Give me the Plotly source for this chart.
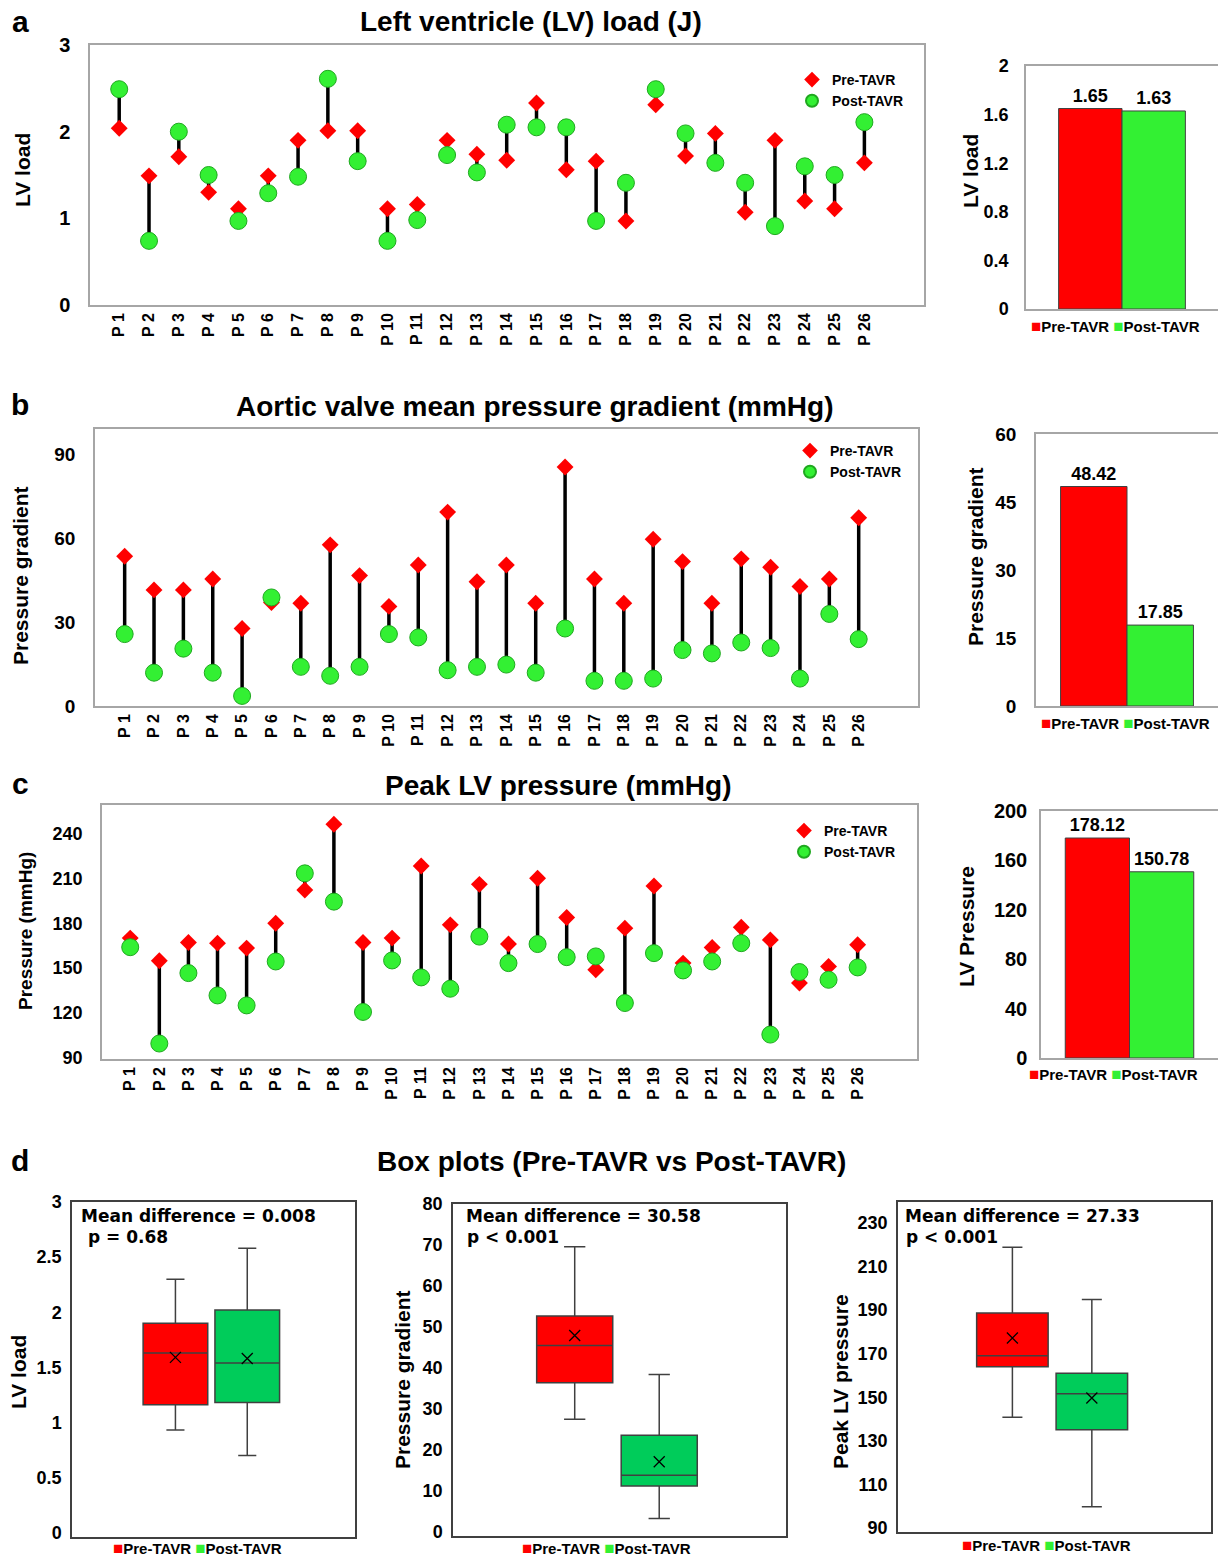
import plotly.graph_objects as go

W, H = 1218, 1559

# ---------------- data ----------------
patients = ["P 1", "P 2", "P 3", "P 4", "P 5", "P 6", "P 7", "P 8", "P 9", "P 10",
            "P 11", "P 12", "P 13", "P 14", "P 15", "P 16", "P 17", "P 18", "P 19",
            "P 20", "P 21", "P 22", "P 23", "P 24", "P 25", "P 26"]

lv_pre = [2.04, 1.49, 1.71, 1.30, 1.11, 1.49, 1.90, 2.01, 2.01, 1.11, 1.16, 1.90, 1.74,
          1.67, 2.33, 1.56, 1.66, 0.97, 2.31, 1.72, 1.98, 1.07, 1.90, 1.20, 1.11, 1.64]
lv_post = [2.49, 0.74, 2.00, 1.50, 0.97, 1.29, 1.48, 2.61, 1.66, 0.74, 0.98, 1.73, 1.53,
           2.08, 2.05, 2.05, 0.97, 1.41, 2.49, 1.98, 1.64, 1.41, 0.91, 1.60, 1.50, 2.11]

pg_pre = [53.5, 41.5, 41.5, 45.4, 27.7, 37.0, 36.7, 57.6, 46.6, 35.6, 50.4, 69.3, 44.4,
          50.4, 36.7, 85.4, 45.4, 36.7, 59.6, 51.6, 36.7, 52.6, 49.6, 42.7, 45.4, 67.3]
pg_post = [25.7, 11.9, 20.5, 11.9, 3.6, 38.8, 14.0, 10.8, 14.0, 25.7, 24.5, 12.8, 14.0,
           14.8, 11.9, 27.7, 9.0, 9.0, 9.8, 20.0, 18.8, 22.7, 20.7, 9.8, 32.9, 23.9]

lvp_pre = [170.2, 155.0, 167.2, 166.8, 163.5, 180.2, 202.5, 246.7, 167.2, 170.2, 218.6,
           179.1, 206.3, 166.2, 210.4, 184.0, 148.9, 176.9, 205.2, 153.4, 163.9, 177.5,
           169.0, 140.0, 151.2, 165.7]
lvp_post = [164.1, 99.4, 146.7, 131.7, 125.0, 154.5, 213.7, 194.7, 120.6, 155.2, 143.8,
            136.2, 171.2, 153.4, 166.2, 157.4, 157.9, 126.6, 160.1, 148.5, 154.5, 166.8,
            105.4, 147.4, 142.2, 150.5]

groups = ["Pre-TAVR", "Post-TAVR"]
lv_mean = [1.65, 1.63]
pg_mean = [48.42, 17.85]
lvp_mean = [178.12, 150.78]

# box statistics: [lower whisker, Q1, median, Q3, upper whisker]
lv_box_pre = [0.93, 1.16, 1.63, 1.90, 2.30]
lv_box_post = [0.70, 1.18, 1.54, 2.02, 2.58]
lv_box_means = [1.59, 1.58]
pg_box_pre = [27.5, 36.4, 45.5, 52.7, 69.6]
pg_box_post = [3.3, 11.2, 13.8, 23.6, 38.4]
pg_box_means = [47.9, 17.1]
lvp_box_pre = [140.9, 164.0, 169.1, 188.7, 218.8]
lvp_box_post = [99.8, 135.1, 151.6, 161.0, 194.9]
lvp_box_means = [177.2, 149.7]

lv_diff_text = ["Mean difference = 0.008", " p = 0.68"]
pg_diff_text = ["Mean difference = 30.58", "p < 0.001"]
lvp_diff_text = ["Mean difference = 27.33", "p < 0.001"]

# ---------------- style ----------------
FONT = "Liberation Sans, Arial, sans-serif"
VER = "DejaVu Sans, Verdana, sans-serif"
RED = "#FF0000"
GREEN = "#33F033"
GREEN_EDGE = "#1FA81F"
BOX_GREEN = "#00CC5A"
FRAME = "#A6A6A6"


def X(p):
    return p / W


def Y(p):
    return 1 - p / H


def xd(l, r):
    return [max(0, X(l)), min(1, X(r))]


def yd(t, b):
    return [Y(b), Y(t)]


fig = go.Figure()
layout = dict(width=W, height=H,
              margin=dict(l=0, r=0, t=0, b=0, pad=0, autoexpand=False),
              paper_bgcolor="white", plot_bgcolor="white", showlegend=True,
              barmode="overlay")
annotations = []


def ax_names(n):
    return ("x" if n == 1 else f"x{n}", "y" if n == 1 else f"y{n}",
            "xaxis" if n == 1 else f"xaxis{n}", "yaxis" if n == 1 else f"yaxis{n}")


def dot_panel(n, pre, post, legend_name, dom_x, dom_y, xr, yr, tickvals, tfs,
              leg_xy):
    xa, ya, xk, yk = ax_names(n)
    lx, ly = [], []
    for p, a, b in zip(patients, pre, post):
        lx += [p, p, None]
        ly += [a, b, None]
    fig.add_trace(go.Scatter(x=lx, y=ly, mode="lines", line=dict(color="black", width=3.5),
                             showlegend=False, hoverinfo="skip", xaxis=xa, yaxis=ya))
    fig.add_trace(go.Scatter(x=patients, y=pre, mode="markers", name="Pre-TAVR",
                             marker=dict(symbol="diamond", size=13, color=RED,
                                         line=dict(width=0)),
                             legend=legend_name, xaxis=xa, yaxis=ya))
    fig.add_trace(go.Scatter(x=patients, y=post, mode="markers", name="Post-TAVR",
                             marker=dict(symbol="circle", size=17, color=GREEN,
                                         line=dict(width=1, color=GREEN_EDGE)),
                             legend=legend_name, xaxis=xa, yaxis=ya))
    layout[xk] = dict(domain=dom_x, anchor=ya, type="category", automargin=False,
                      categoryorder="array", categoryarray=patients, range=xr,
                      showline=True, mirror=True, linecolor=FRAME, linewidth=1.5,
                      showgrid=False, zeroline=False, ticks="", tickangle=-90,
                      tickfont=dict(family=FONT, size=16, color="black", weight="bold"))
    layout[yk] = dict(domain=dom_y, anchor=xa, range=yr, tickvals=tickvals,
                      automargin=False,
                      showline=True, mirror=True, linecolor=FRAME, linewidth=1.5,
                      showgrid=False, zeroline=False, ticks="", ticklabelstandoff=14,
                      tickfont=dict(family=FONT, size=tfs, color="black", weight="bold"))
    layout[legend_name] = dict(x=X(leg_xy[0]), y=Y(leg_xy[1]), xanchor="left",
                               yanchor="top", bgcolor="rgba(0,0,0,0)",
                               itemsizing="constant", tracegroupgap=0,
                               font=dict(family=FONT, size=14, color="black",
                                         weight="bold"))


def bar_panel(n, vals, dom_x, dom_y, yr, dtick, bw, standoff, tfs):
    xa, ya, xk, yk = ax_names(n)
    for i, (g, v, c) in enumerate(zip(groups, vals, [RED, GREEN])):
        fig.add_trace(go.Bar(x=[""], y=[v], name=g, width=bw, offset=-bw if i == 0 else 0,
                             marker=dict(color=c, line=dict(color="#404040", width=1)),
                             text=[f"{v:.2f}"], textposition="outside", cliponaxis=False,
                             textfont=dict(family=FONT, size=18, color="black",
                                           weight="bold"),
                             showlegend=False, xaxis=xa, yaxis=ya))
    layout[xk] = dict(domain=dom_x, anchor=ya, type="category", range=[-0.5, 0.5],
                      automargin=False,
                      showline=True, mirror=True, linecolor=FRAME, linewidth=1.5,
                      showticklabels=False, ticks="", showgrid=False)
    layout[yk] = dict(domain=dom_y, anchor=xa, range=yr, dtick=dtick, tick0=0,
                      automargin=False,
                      showline=True, mirror=False, linecolor=FRAME, linewidth=1.5,
                      showgrid=False, zeroline=False, ticks="",
                      ticklabelstandoff=standoff,
                      tickfont=dict(family=FONT, size=tfs, color="black", weight="bold"))


def box_panel(n, stats, means, dom_x, dom_y, yr, dtick, tick0):
    xa, ya, xk, yk = ax_names(n)
    for g, s, m, c in zip(groups, stats, means, [RED, BOX_GREEN]):
        fig.add_trace(go.Box(x=[g], lowerfence=[s[0]], q1=[s[1]], median=[s[2]],
                             q3=[s[3]], upperfence=[s[4]], name=g, fillcolor=c,
                             line=dict(color="#404040", width=1.5), width=0.9,
                             whiskerwidth=0.28, boxpoints=False, showlegend=False,
                             xaxis=xa, yaxis=ya))
        fig.add_trace(go.Scatter(x=[g], y=[m], mode="markers", showlegend=False,
                                 marker=dict(symbol="x-thin", size=11, color="black",
                                             line=dict(width=1.3, color="black")),
                                 xaxis=xa, yaxis=ya))
    layout[xk] = dict(domain=dom_x, anchor=ya, type="category", automargin=False,
                      categoryorder="array", categoryarray=groups, range=[-1.44, 2.5],
                      showline=True, mirror=True, linecolor="#404040", linewidth=1.5,
                      showticklabels=False, ticks="", showgrid=False)
    layout[yk] = dict(domain=dom_y, anchor=xa, range=yr, dtick=dtick, tick0=tick0,
                      automargin=False,
                      showline=True, mirror=True, linecolor="#404040", linewidth=1.5,
                      showgrid=False, zeroline=False, ticks="", ticklabelstandoff=5,
                      tickfont=dict(family=FONT, size=18, color="black", weight="bold"))


# panel a
dot_panel(1, lv_pre, lv_post, "legend", xd(90, 924), yd(45, 305), [-0.98, 27.0], [0, 3],
          [0, 1, 2, 3], 20, (792, 64))
bar_panel(2, lv_mean, xd(1026, 1219), yd(66, 309), [0, 2], 0.4, 0.33, 12, 18)
# panel b
dot_panel(3, pg_pre, pg_post, "legend2", xd(95, 918), yd(429, 706), [-1.01, 27.02],
          [0, 99], [0, 30, 60, 90], 19, (790, 435))
bar_panel(4, pg_mean, xd(1036, 1220), yd(434, 706), [0, 60], 15, 0.365, 14, 19)
# panel c
dot_panel(5, lvp_pre, lvp_post, "legend3", xd(102, 917), yd(805, 1059), [-0.97, 27.04],
          [89, 259.6], [90, 120, 150, 180, 210, 240], 18, (784, 815))
bar_panel(6, lvp_mean, xd(1041, 1218), yd(811, 1058), [0, 200], 40, 0.363, 8, 20)
# panel d
box_panel(7, [lv_box_pre, lv_box_post], lv_box_means, xd(72, 355), yd(1202, 1537),
          [-0.04, 3.0], 0.5, 0)
box_panel(8, [pg_box_pre, pg_box_post], pg_box_means, xd(453, 786), yd(1204, 1536),
          [-1, 80], 10, 0)
box_panel(9, [lvp_box_pre, lvp_box_post], lvp_box_means, xd(898, 1211), yd(1202, 1532),
          [88.2, 239.6], 20, 90)


def ann(text, x, y, size, xanchor="center", angle=0, family=FONT):
    annotations.append(dict(text=text, x=X(x), y=Y(y), xref="paper", yref="paper",
                            xanchor=xanchor, yanchor="middle", showarrow=False,
                            textangle=angle, borderpad=0,
                            font=dict(family=family, size=size, color="black")))


# panel letters and titles
for letter, yy in [("a", 22), ("b", 405), ("c", 783), ("d", 1160)]:
    ann(f"<b>{letter}</b>", 20, yy, 30)
ann("<b>Left ventricle (LV) load (J)</b>", 531, 22, 28)
ann("<b>Aortic valve mean pressure gradient (mmHg)</b>", 535, 406, 28)
ann("<b>Peak LV pressure (mmHg)</b>", 558, 785, 28)
ann("<b>Box plots (Pre-TAVR vs Post-TAVR)</b>", 611, 1161, 28)

# axis titles
ann("<b>LV load</b>", 22, 170, 21, angle=-90)
ann("<b>Pressure gradient</b>", 20, 576, 21, angle=-90)
ann("<b>Pressure (mmHg)</b>", 25, 931, 19, angle=-90)
ann("<b>LV load</b>", 970, 171, 21, angle=-90)
ann("<b>Pressure gradient</b>", 975, 557, 21, angle=-90)
ann("<b>LV Pressure</b>", 966, 927, 21, angle=-90)
ann("<b>LV load</b>", 18, 1372, 21, angle=-90)
ann("<b>Pressure gradient</b>", 402, 1380, 21, angle=-90)
ann("<b>Peak LV pressure</b>", 840, 1382, 21, angle=-90)

# bar / box legends
leg_text = (f'<b><span style="color:{RED};font-size:17px">■</span>{groups[0]} '
            f'<span style="color:{GREEN};font-size:17px">■</span>{groups[1]}</b>')
for (lx, ly) in [(1115, 326), (1125, 723), (1113, 1074), (197, 1548), (606, 1548),
                 (1046, 1545)]:
    ann(leg_text, lx, ly, 15)

# mean difference texts
for txt, lx, ly in [(lv_diff_text, 80, 1216), (pg_diff_text, 465, 1216),
                    (lvp_diff_text, 904, 1216)]:
    ann(f"<b>{txt[0]}</b>", lx, ly, 17, xanchor="left", family=VER)
    ann(f"<b>{txt[1]}</b>", lx + 1, ly + 21, 17, xanchor="left", family=VER)

layout["annotations"] = annotations
fig.update_layout(**layout)
fig.write_html("out.html")
